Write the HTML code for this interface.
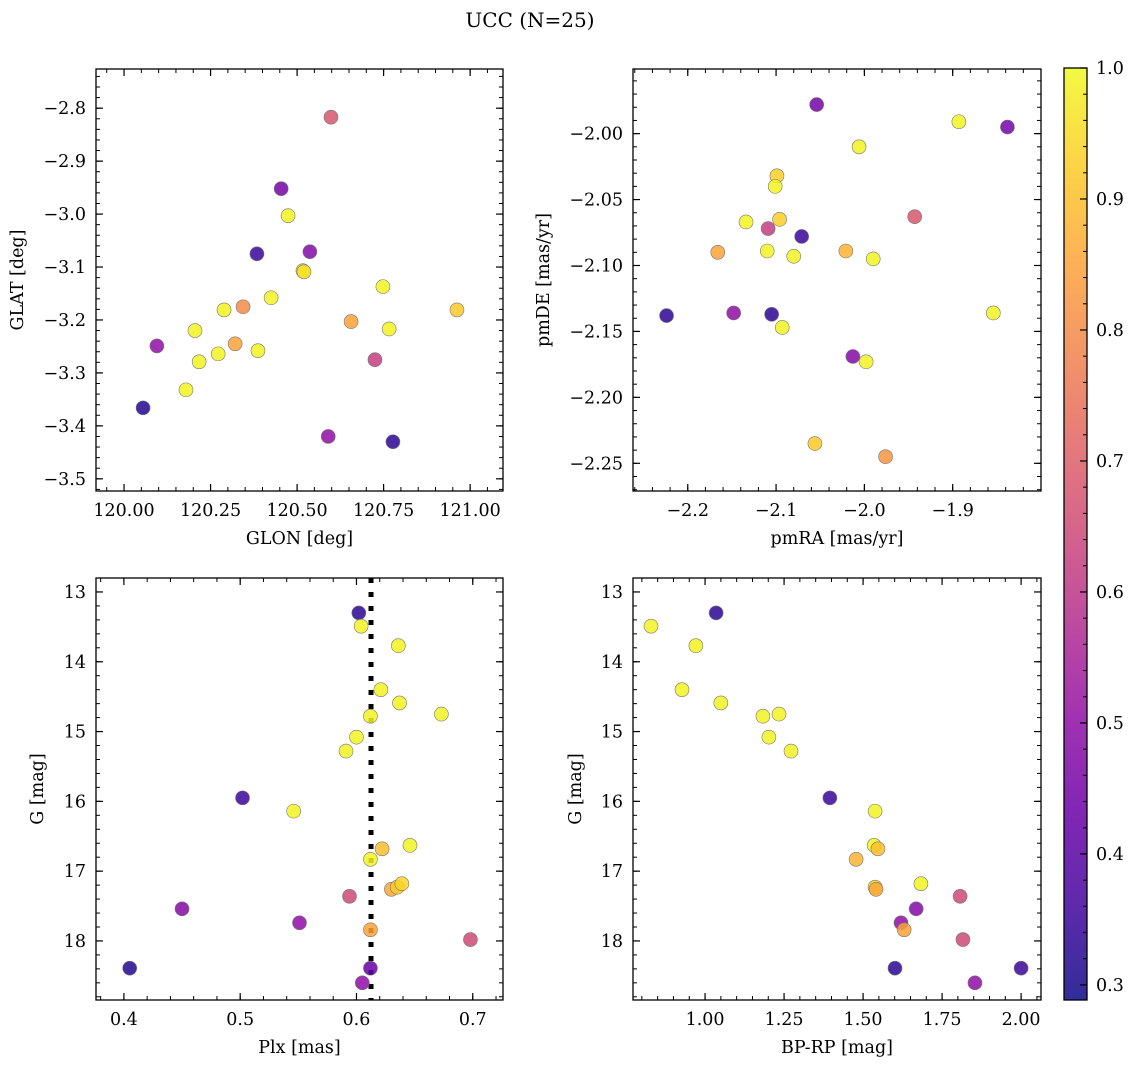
<!DOCTYPE html>
<html><head><meta charset="utf-8"><style>
html,body{margin:0;padding:0;background:#fff;}
svg text{font-family:"DejaVu Serif","Liberation Serif",serif;fill:#000;}
</style></head><body>
<svg id="fig" width="1136" height="1068" xmlns="http://www.w3.org/2000/svg">
<text x="530" y="27" font-size="20" text-anchor="middle">UCC (N=25)</text>
</svg>
<script>
// Panel 1: GLON vs GLAT
const glonX=[120.598,120.454,120.474,120.384,120.537,120.517,120.520,120.425,120.289,120.962,120.748,120.205,120.095,120.321,120.272,120.387,120.344,120.217,120.656,120.766,120.725,120.179,120.055,120.590,120.777];
const glatY=[-2.817,-2.952,-3.003,-3.075,-3.071,-3.107,-3.109,-3.158,-3.181,-3.181,-3.137,-3.220,-3.249,-3.245,-3.264,-3.258,-3.175,-3.279,-3.203,-3.217,-3.275,-3.332,-3.366,-3.420,-3.430];
const glonC=[0.68,0.45,0.99,0.35,0.48,0.9,0.97,0.99,0.99,0.92,0.99,0.99,0.5,0.85,0.99,0.99,0.8,0.99,0.85,0.99,0.62,0.99,0.32,0.5,0.33];
// Panel 2: pmRA vs pmDE
const pmraX=[-2.054,-1.893,-1.838,-2.006,-2.099,-2.101,-2.134,-2.096,-1.943,-2.109,-2.071,-2.166,-2.110,-2.080,-2.021,-1.990,-2.224,-2.148,-2.105,-2.093,-1.854,-2.013,-1.998,-2.056,-1.976];
const pmdeY=[-1.978,-1.991,-1.995,-2.010,-2.032,-2.040,-2.067,-2.065,-2.063,-2.072,-2.078,-2.090,-2.089,-2.093,-2.089,-2.095,-2.138,-2.136,-2.137,-2.147,-2.136,-2.169,-2.173,-2.235,-2.245];
const pmC=[0.45,0.99,0.45,0.99,0.93,0.99,0.99,0.93,0.68,0.62,0.35,0.85,0.99,0.99,0.88,0.99,0.33,0.5,0.33,0.99,0.99,0.48,0.99,0.92,0.82];
// Panel 3: Plx vs G
const plxX=[0.602,0.604,0.636,0.621,0.637,0.673,0.612,0.600,0.591,0.502,0.546,0.646,0.622,0.612,0.594,0.630,0.635,0.639,0.450,0.551,0.612,0.698,0.405,0.612,0.605];
const plxG=[13.30,13.49,13.77,14.40,14.59,14.75,14.78,15.08,15.28,15.95,16.14,16.63,16.68,16.83,17.36,17.26,17.23,17.18,17.54,17.74,17.84,17.98,18.39,18.39,18.60];
const plxC=[0.33,0.99,0.99,0.99,0.99,0.99,0.99,0.99,0.99,0.35,0.99,0.99,0.9,0.99,0.65,0.86,0.92,0.94,0.48,0.5,0.85,0.65,0.32,0.42,0.5];
const plxLine=[0.6125];
// Panel 4: BP-RP vs G
const bprpX=[0.829,1.035,0.971,0.927,1.050,1.183,1.234,1.202,1.272,1.395,1.538,1.535,1.547,1.478,1.538,1.541,1.683,1.807,1.668,1.620,1.630,1.816,1.601,2.000,1.854];
const bprpG=[13.49,13.30,13.77,14.40,14.59,14.78,14.75,15.08,15.28,15.95,16.14,16.63,16.68,16.83,17.23,17.26,17.18,17.36,17.54,17.74,17.84,17.98,18.39,18.39,18.60];
const bprpC=[0.99,0.33,0.99,0.99,0.99,0.99,0.99,0.99,0.99,0.35,0.99,0.99,0.9,0.88,0.94,0.86,0.99,0.65,0.48,0.5,0.85,0.65,0.33,0.35,0.5];
// tick labels
const t1x=[120.00,120.25,120.50,120.75,121.00], t1xl=["120.00","120.25","120.50","120.75","121.00"];
const t1y=[-2.8,-2.9,-3.0,-3.1,-3.2,-3.3,-3.4,-3.5], t1yl=["−2.8","−2.9","−3.0","−3.1","−3.2","−3.3","−3.4","−3.5"];
const t2x=[-2.2,-2.1,-2.0,-1.9], t2xl=["−2.2","−2.1","−2.0","−1.9"];
const t2y=[-2.00,-2.05,-2.10,-2.15,-2.20,-2.25], t2yl=["−2.00","−2.05","−2.10","−2.15","−2.20","−2.25"];
const t3x=[0.4,0.5,0.6,0.7], t3xl=["0.4","0.5","0.6","0.7"];
const tGy=[13,14,15,16,17,18], tGyl=["13","14","15","16","17","18"];
const t4x=[1.00,1.25,1.50,1.75,2.00], t4xl=["1.00","1.25","1.50","1.75","2.00"];
const tcb=[0.3,0.4,0.5,0.6,0.7,0.8,0.9,1.0], tcbl=["0.3","0.4","0.5","0.6","0.7","0.8","0.9","1.0"];

const NS="http://www.w3.org/2000/svg";
const svg=document.getElementById('fig');
const FS=17.5;
function el(tag,attrs,parent){const e=document.createElementNS(NS,tag);for(const k in attrs)e.setAttribute(k,attrs[k]);(parent||svg).appendChild(e);return e;}
const CMIN=0.2885,CMAX=1.0;
const ST=[[0,13,8,135],[0.1,65,4,157],[0.2,106,0,168],[0.3,143,13,164],[0.4,177,42,144],[0.5,204,71,120],[0.6,225,100,98],[0.7,242,132,75],[0.8,252,166,54],[0.9,252,206,37],[1,240,249,33]];
function cmap(v){let t=(v-CMIN)/(CMAX-CMIN);t=Math.max(0,Math.min(1,t));
 for(let i=1;i<ST.length;i++){if(t<=ST[i][0]){const a=ST[i-1],b=ST[i],f=(t-a[0])/(b[0]-a[0]);return `rgb(${Math.round(a[1]+f*(b[1]-a[1]))},${Math.round(a[2]+f*(b[2]-a[2]))},${Math.round(a[3]+f*(b[3]-a[3]))})`;}}
 return 'rgb(240,249,33)';}
function rng(a,b,s){const r=[];const n=Math.round((b-a)/s);for(let i=0;i<=n;i++)r.push(a+i*s);return r;}

function panel(o){
 const g=el('g',{});
 
 
 const sx=v=>o.x0+(v-o.xmin)/(o.xmax-o.xmin)*(o.x1-o.x0);
 const sy=v=>o.inv? o.y0+(v-o.ymin)/(o.ymax-o.ymin)*(o.y1-o.y0) : o.y1-(v-o.ymin)/(o.ymax-o.ymin)*(o.y1-o.y0);
 rng(o.xmn0,o.xmn1,o.xmnS).forEach(v=>{const x=sx(v);if(x<o.x0||x>o.x1)return;
  el('line',{x1:x,y1:o.y1,x2:x,y2:o.y1-4,stroke:'#000','stroke-width':1},g);el('line',{x1:x,y1:o.y0,x2:x,y2:o.y0+4,stroke:'#000','stroke-width':1},g);});
 rng(o.ymn0,o.ymn1,o.ymnS).forEach(v=>{const y=sy(v);if(y<o.y0||y>o.y1)return;
  el('line',{x1:o.x0,y1:y,x2:o.x0+4,y2:y,stroke:'#000','stroke-width':1},g);el('line',{x1:o.x1,y1:y,x2:o.x1-4,y2:y,stroke:'#000','stroke-width':1},g);});
 o.xt.forEach((v,i)=>{const x=sx(v);
  el('line',{x1:x,y1:o.y1,x2:x,y2:o.y1-7,stroke:'#000','stroke-width':1.2},g);el('line',{x1:x,y1:o.y0,x2:x,y2:o.y0+7,stroke:'#000','stroke-width':1.2},g);
  const t=el('text',{x:x,y:o.y1+25,'font-size':FS,'text-anchor':'middle'},g);t.textContent=o.xtl[i];
  
  });
 o.yt.forEach((v,i)=>{const y=sy(v);
  el('line',{x1:o.x0,y1:y,x2:o.x0+7,y2:y,stroke:'#000','stroke-width':1.2},g);el('line',{x1:o.x1,y1:y,x2:o.x1-7,y2:y,stroke:'#000','stroke-width':1.2},g);
  const t=el('text',{x:o.x0-10,y:y+6,'font-size':FS,'text-anchor':'end'},g);t.textContent=o.ytl[i];
  
  });
 if(o.vline){o.vline.forEach(v=>{const l=el('line',{x1:sx(v),y1:o.y0,x2:sx(v),y2:o.y1,stroke:'#000','stroke-width':5,'stroke-dasharray':'5,9'},g);
  
  });}
 o.xs.forEach((v,i)=>{const c=el('circle',{cx:sx(v),cy:sy(o.ys[i]),r:7,fill:cmap(o.cs[i]),'fill-opacity':0.85,stroke:'#777','stroke-width':0.6},g);
  
  });
 el('rect',{x:o.x0,y:o.y0,width:o.x1-o.x0,height:o.y1-o.y0,fill:'none',stroke:'#000','stroke-width':1.3},g);
 const xl=el('text',{x:(o.x0+o.x1)/2,y:o.y1+53,'font-size':FS,'text-anchor':'middle'},g);xl.textContent=o.xlab;
 
 
 const yl=el('text',{x:0,y:0,'font-size':FS,'text-anchor':'middle',transform:`translate(${o.ylx},${(o.y0+o.y1)/2}) rotate(-90)`},g);yl.textContent=o.ylab;
 
 
}
panel({name:'glon-glat-panel',x0:96,x1:503,y0:69,y1:491,xmin:119.919,xmax:121.095,ymin:-3.523,ymax:-2.726,
 xt:t1x,xtl:t1xl,yt:t1y,ytl:t1yl,xmn0:119.9,xmn1:121.1,xmnS:0.05,ymn0:-3.52,ymn1:-2.72,ymnS:0.02,
 xs:glonX,ys:glatY,cs:glonC,xlab:'GLON [deg]',ylab:'GLAT [deg]',ylx:23});
panel({name:'pm-panel',x0:633,x1:1041,y0:69,y1:491,xmin:-2.262,xmax:-1.800,ymin:-2.271,ymax:-1.951,
 xt:t2x,xtl:t2xl,yt:t2y,ytl:t2yl,xmn0:-2.26,xmn1:-1.80,xmnS:0.02,ymn0:-2.27,ymn1:-1.95,ymnS:0.01,
 xs:pmraX,ys:pmdeY,cs:pmC,xlab:'pmRA [mas/yr]',ylab:'pmDE [mas/yr]',ylx:549});
panel({name:'plx-g-panel',x0:96,x1:503,y0:578,y1:1000,xmin:0.376,xmax:0.726,ymin:12.80,ymax:18.846,inv:true,
 xt:t3x,xtl:t3xl,yt:tGy,ytl:tGyl,xmn0:0.38,xmn1:0.72,xmnS:0.02,ymn0:12.8,ymn1:18.8,ymnS:0.2,
 xs:plxX,ys:plxG,cs:plxC,vline:plxLine,xlab:'Plx [mas]',ylab:'G [mag]',ylx:43});
panel({name:'cmd-panel',x0:633,x1:1041,y0:578,y1:1000,xmin:0.772,xmax:2.063,ymin:12.80,ymax:18.846,inv:true,
 xt:t4x,xtl:t4xl,yt:tGy,ytl:tGyl,xmn0:0.8,xmn1:2.05,xmnS:0.05,ymn0:12.8,ymn1:18.8,ymnS:0.2,
 xs:bprpX,ys:bprpG,cs:bprpC,xlab:'BP-RP [mag]',ylab:'G [mag]',ylx:581});
(function(){
 const cx0=1064,cx1=1087,cy0=68,cy1=1000;
 const g=el('g',{});
 
 
 const defs=el('defs',{},g);const lg=el('linearGradient',{id:'cbg',x1:0,y1:1,x2:0,y2:0},defs);
 for(let i=0;i<=20;i++){const v=CMIN+(CMAX-CMIN)*i/20;el('stop',{offset:(i/20),'stop-color':cmap(v),'stop-opacity':0.85},lg);}
 el('rect',{x:cx0,y:cy0,width:cx1-cx0,height:cy1-cy0,fill:'url(#cbg)',stroke:'#000','stroke-width':1.3},g);
 const sy=v=>cy1-(v-CMIN)/(CMAX-CMIN)*(cy1-cy0);
 rng(0.3,1.0,0.02).forEach(v=>{const y=sy(v);el('line',{x1:cx1,y1:y,x2:cx1-4,y2:y,stroke:'#000','stroke-width':1},g);});
 tcb.forEach((v,i)=>{const y=sy(v);el('line',{x1:cx1,y1:y,x2:cx1-7,y2:y,stroke:'#000','stroke-width':1.2},g);
  const t=el('text',{x:cx1+9,y:y+6,'font-size':FS},g);t.textContent=tcbl[i];
  
  });
})();
</script>
</body></html>
